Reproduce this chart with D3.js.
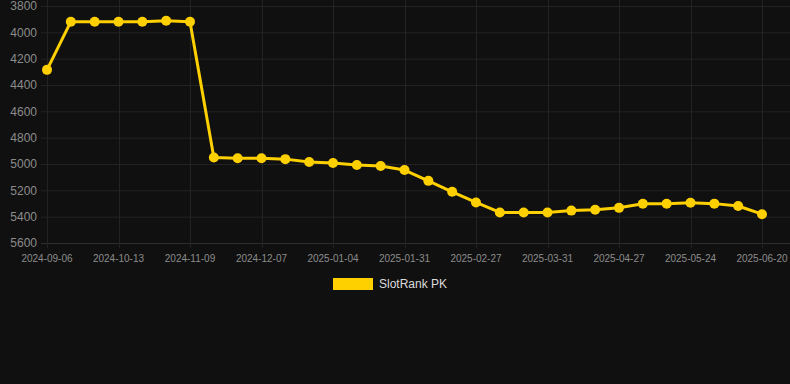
<!DOCTYPE html>
<html>
<head>
<meta charset="utf-8">
<script src="https://cdn.jsdelivr.net/npm/d3@7"></script>
<style>
  html, body { margin: 0; padding: 0; background: #101010; }
  #chart { width: 790px; height: 384px; }
  text { font-family: "Liberation Sans", Arial, sans-serif; }
</style>
</head>
<body>
<div id="chart"></div>
<script>
// 날짜 (표시되는 라벨은 3개마다 하나)
var dates = [
    "2024-09-06", "2024-09-18", "2024-10-01", "2024-10-13", "2024-10-22", "2024-10-31",
    "2024-11-09", "2024-11-18", "2024-11-27", "2024-12-07", "2024-12-16", "2024-12-25",
    "2025-01-04", "2025-01-13", "2025-01-22", "2025-01-31", "2025-02-09", "2025-02-18",
    "2025-02-27", "2025-03-09", "2025-03-20", "2025-03-31", "2025-04-09", "2025-04-18",
    "2025-04-27", "2025-05-06", "2025-05-15", "2025-05-24", "2025-06-02", "2025-06-11",
    "2025-06-20"
];
var rankValues = [
    4285, 3919, 3919, 3920, 3919, 3912,
    3920, 4950, 4956, 4957, 4963, 4985,
    4993, 5008, 5015, 5046, 5128, 5211,
    5292, 5368, 5368, 5368, 5354, 5348,
    5333, 5302, 5302, 5294, 5301, 5319,
    5381
];
var yTicks = [3800, 4000, 4200, 4400, 4600, 4800, 5000, 5200, 5400, 5600];
var seriesName = "SlotRank PK";

var chart = (function () {
    "use strict";

    var width = 790, height = 384;
    var plot = { left: 47, right: 762, top: 6, bottom: 243 };
    var lineColor = "#ffd000";
    var gridColor = "#232323";

    var svg = d3.select("#chart")
        .append("svg")
        .attr("width", width)
        .attr("height", height);

    var x = d3.scalePoint()
        .domain(dates)
        .range([plot.left, plot.right]);

    var y = d3.scaleLinear()
        .domain([3800, 5600])
        .range([plot.top, plot.bottom]);

    var labelDates = dates.filter(function (d, i) { return i % 3 === 0; });

    // 가로 격자
    svg.append("g")
        .selectAll("line")
        .data(yTicks)
        .enter()
        .append("line")
        .attr("x1", 41)
        .attr("x2", width)
        .attr("y1", function (d) { return y(d) + 0.5; })
        .attr("y2", function (d) { return y(d) + 0.5; })
        .attr("stroke", function (d) { return d === 5600 ? "#2e2e2e" : gridColor; })
        .attr("stroke-width", 1);

    // 세로 격자
    svg.append("g")
        .selectAll("line")
        .data(labelDates)
        .enter()
        .append("line")
        .attr("x1", function (d) { return Math.round(x(d)) + 0.5; })
        .attr("x2", function (d) { return Math.round(x(d)) + 0.5; })
        .attr("y1", 0)
        .attr("y2", plot.bottom + 5)
        .attr("stroke", gridColor)
        .attr("stroke-width", 1);

    // y 축 라벨
    svg.append("g")
        .selectAll("text")
        .data(yTicks)
        .enter()
        .append("text")
        .attr("x", 37)
        .attr("y", function (d) { return y(d); })
        .attr("dy", "0.35em")
        .attr("text-anchor", "end")
        .style("font-size", "12px")
        .style("fill", "#8c8c8c")
        .text(function (d) { return d; });

    // x 축 라벨
    svg.append("g")
        .selectAll("text")
        .data(labelDates)
        .enter()
        .append("text")
        .attr("x", function (d) { return x(d); })
        .attr("y", plot.bottom + 19)
        .attr("text-anchor", "middle")
        .style("font-size", "10px")
        .style("fill", "#8c8c8c")
        .text(function (d) { return d; });

    var points = dates.map(function (d, i) {
        return { date: d, value: rankValues[i] };
    });

    var line = d3.line()
        .x(function (d) { return x(d.date); })
        .y(function (d) { return y(d.value); });

    svg.append("path")
        .datum(points)
        .attr("d", line)
        .attr("fill", "none")
        .attr("stroke", lineColor)
        .attr("stroke-width", 3)
        .attr("stroke-linejoin", "round");

    svg.append("g")
        .selectAll("circle")
        .data(points)
        .enter()
        .append("circle")
        .attr("cx", function (d) { return x(d.date); })
        .attr("cy", function (d) { return y(d.value); })
        .attr("r", 5)
        .attr("fill", lineColor);

    // 범례
    var legend = svg.append("g");
    legend.append("rect")
        .attr("x", 333)
        .attr("y", 278)
        .attr("width", 40)
        .attr("height", 12)
        .attr("fill", lineColor);
    legend.append("text")
        .attr("x", 379)
        .attr("y", 284)
        .attr("dy", "0.35em")
        .style("font-size", "12px")
        .style("fill", "#dcdcdc")
        .text(seriesName);

    return svg;
})();
</script>
</body>
</html>
